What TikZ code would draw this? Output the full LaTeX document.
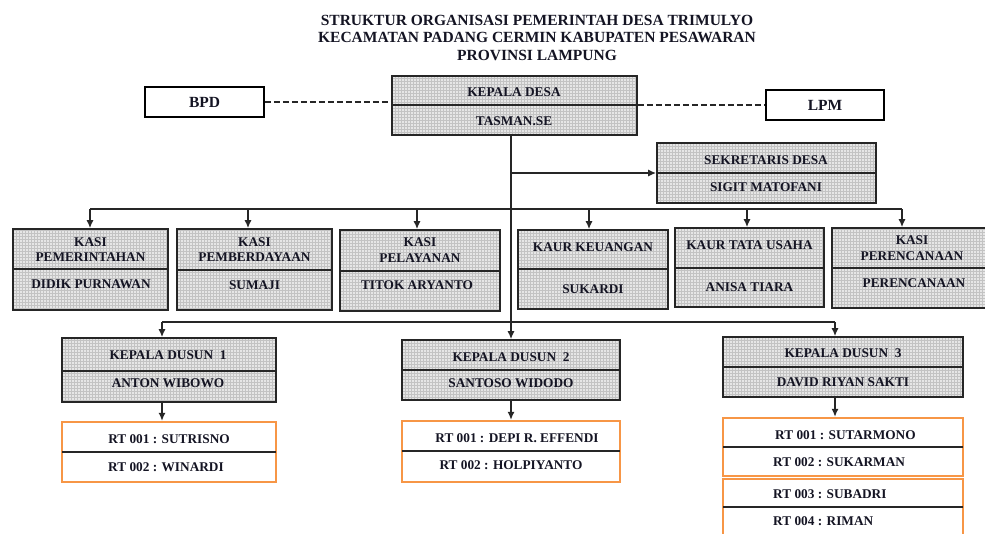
\documentclass[tikz,border=0pt]{standalone}
\usepackage{fontspec}
\setmainfont{Liberation Serif}
\usetikzlibrary{arrows.meta,fit}
\definecolor{rtorange}{RGB}{247,150,70}
\definecolor{boxfill}{RGB}{230,230,230}
\definecolor{gridc}{RGB}{195,195,195}
\definecolor{ink}{RGB}{20,20,35}
\tikzset{
  gbox/.style={draw=black!85, line width=1.6pt, fill=boxfill, inner sep=0pt,
    path picture={\draw[gridc, line width=0.35pt, step=3pt]
      (path picture bounding box.south west) grid (path picture bounding box.north east);}},
  wbox/.style={draw=black, line width=1.8pt, fill=white, inner sep=0pt},
  obox/.style={draw=rtorange, line width=2.2pt, fill=white, inner sep=0pt},
  divline/.style={black!85, line width=1.3pt},
  txt/.style={font=\fontsize{13.3}{15}\selectfont\bfseries, inner sep=0pt, text=ink},
  bigtxt/.style={font=\fontsize{15.5}{17}\selectfont\bfseries, inner sep=0pt, text=ink},
  titletxt/.style={font=\fontsize{15.5}{17}\selectfont\bfseries, inner sep=0pt, text=ink},
  conn/.style={black!85, line width=1.5pt},
  arr/.style={conn, -{Latex[length=8pt,width=7pt]}},
  dashc/.style={black!85, line width=2.6pt, dash pattern=on 6pt off 3pt},
}
\begin{document}
\begin{tikzpicture}[x=1pt,y=-1pt]
\useasboundingbox (0,0) rectangle (985,533);
\fill[white] (0,0) rectangle (985,533);

% title
\node[titletxt] (t1) at (537,20) {STRUKTUR ORGANISASI PEMERINTAH DESA TRIMULYO};
\node[titletxt] (t2) at (537,37) {KECAMATAN PADANG CERMIN KABUPATEN PESAWARAN};
\node[titletxt] (t3) at (537,55) {PROVINSI LAMPUNG};

% Kepala Desa
\node[gbox, fit={(392,76) (637,135)}] (kdesa) {};
\draw[divline] (392,105) -- (637,105);
\node[txt] (kdesa1) at (514,92) {KEPALA DESA};
\node[txt] (kdesa2) at (514,121) {TASMAN.SE};

% BPD, LPM
\node[wbox, fit={(145,87) (264,117)}] (bpd) {};
\node[bigtxt] (bpdt) at (204.5,102) {BPD};
\node[wbox, fit={(766,90) (884,120)}] (lpm) {};
\node[bigtxt] (lpmt) at (825,105) {LPM};
\draw[dashc] (bpd.east) -- (bpd.east -| kdesa.west);
\draw[dashc] (lpm.west -| kdesa.east) -- (lpm.west);

% Sekretaris
\node[gbox, fit={(657,143) (876,203)}] (sek) {};
\draw[divline] (657,173) -- (876,173);
\node[txt] (sek1) at (766,160) {SEKRETARIS DESA};
\node[txt] (sek2) at (766,187) {SIGIT MATOFANI};

% row of kasi / kaur
\node[gbox, fit={(13,229) (168,310)}] (kp1) {};
\draw[divline] (13,269) -- (168,269);
\node[txt] (kp1a) at (90.5,242) {KASI};
\node[txt] (kp1b) at (90.5,257) {PEMERINTAHAN};
\node[txt] (kp1c) at (91,284) {DIDIK PURNAWAN};

\node[gbox, fit={(177,229) (332,310)}] (kp2) {};
\draw[divline] (177,270) -- (332,270);
\node[txt] (kp2a) at (254.5,242) {KASI};
\node[txt] (kp2b) at (254.5,257) {PEMBERDAYAAN};
\node[txt] (kp2c) at (254.5,285) {SUMAJI};

\node[gbox, fit={(340,230) (500,311)}] (kp3) {};
\draw[divline] (340,271) -- (500,271);
\node[txt] (kp3a) at (420,242) {KASI};
\node[txt] (kp3b) at (420,258) {PELAYANAN};
\node[txt] (kp3c) at (417,285) {TITOK ARYANTO};

\node[gbox, fit={(518,230) (668,309)}] (kk) {};
\draw[divline] (518,269) -- (668,269);
\node[txt] (kka) at (593,247) {KAUR KEUANGAN};
\node[txt] (kkb) at (593,289) {SUKARDI};

\node[gbox, fit={(675,228) (824,307)}] (ktu) {};
\draw[divline] (675,268) -- (824,268);
\node[txt] (ktua) at (749.5,245) {KAUR TATA USAHA};
\node[txt] (ktub) at (749.5,287) {ANISA TIARA};

\node[gbox, fit={(832,228) (988,308)}] (kpr) {};
\draw[divline] (832,268) -- (988,268);
\node[txt] (kpra) at (912,240) {KASI};
\node[txt] (kprb) at (912,256) {PERENCANAAN};
\node[txt] (kprc) at (914,283) {PERENCANAAN};

% Kepala Dusun
\node[gbox, fit={(62,338) (276,402)}] (kdus1) {};
\draw[divline] (62,371) -- (276,371);
\node[txt] (kdus1a) at (168,355) {KEPALA DUSUN\ \ 1};
\node[txt] (kdus1b) at (168,383) {ANTON WIBOWO};

\node[gbox, fit={(402,340) (620,400)}] (kdus2) {};
\draw[divline] (402,370) -- (620,370);
\node[txt] (kdus2a) at (511,357) {KEPALA DUSUN\ \ 2};
\node[txt] (kdus2b) at (511,383) {SANTOSO WIDODO};

\node[gbox, fit={(723,337) (963,397)}] (kdus3) {};
\draw[divline] (723,367) -- (963,367);
\node[txt] (kdus3a) at (843,353) {KEPALA DUSUN\ \ 3};
\node[txt] (kdus3b) at (843,382) {DAVID RIYAN SAKTI};

% RT boxes
\node[obox, fit={(62,422) (276,482)}] (rt1) {};
\draw[divline] (62,452) -- (276,452);
\node[txt] (rt1a) at (169,439) {RT 001 : SUTRISNO};
\node[txt] (rt1b) at (166,467) {RT 002 : WINARDI};

\node[obox, fit={(402,421) (620,482)}] (rt2) {};
\draw[divline] (402,451) -- (620,451);
\node[txt] (rt2a) at (517,438) {RT 001 : DEPI R. EFFENDI};
\node[txt] (rt2b) at (511,465) {RT 002 : HOLPIYANTO};

\node[obox, fit={(723,418) (963,476)}] (rt3a) {};
\draw[divline] (723,447) -- (963,447);
\node[txt, anchor=west] (rt3a1) at (775,435) {RT 001 : SUTARMONO};
\node[txt, anchor=west] (rt3a2) at (773,462) {RT 002 : SUKARMAN};

\node[obox, fit={(723,479) (963,545)}] (rt3b) {};
\draw[divline] (723,507) -- (963,507);
\node[txt, anchor=west] (rt3b1) at (773,494) {RT 003 : SUBADRI};
\node[txt, anchor=west] (rt3b2) at (773,521) {RT 004 : RIMAN};

% connectors
\draw[arr] (kdus2.north |- kdesa.south) -- (kdus2.north);
\coordinate (j1) at (511,173);
\draw[arr] (j1) -- (j1 -| sek.west);

\coordinate (a1) at (90,209);
\coordinate (a2) at (248,209);
\coordinate (a3) at (417,209);
\coordinate (a4) at (589,209);
\coordinate (a5) at (747,209);
\coordinate (a6) at (902,209);
\draw[conn] (a1) -- (a6);
\draw[arr] (a1) -- (a1 |- kp1.north);
\draw[arr] (a2) -- (a2 |- kp2.north);
\draw[arr] (a3) -- (a3 |- kp3.north);
\draw[arr] (a4) -- (a4 |- kk.north);
\draw[arr] (a5) -- (a5 |- ktu.north);
\draw[arr] (a6) -- (a6 |- kpr.north);

\coordinate (d1) at (162,322);
\coordinate (d3) at (835,322);
\draw[conn] (d1) -- (d3);
\draw[arr] (d1) -- (d1 |- kdus1.north);
\draw[arr] (d3) -- (d3 |- kdus3.north);

\draw[arr] (d1 |- kdus1.south) -- (d1 |- rt1.north);
\draw[arr] (kdus2.south) -- (rt2.north);
\draw[arr] (d3 |- kdus3.south) -- (d3 |- rt3a.north);
\end{tikzpicture}
\end{document}
